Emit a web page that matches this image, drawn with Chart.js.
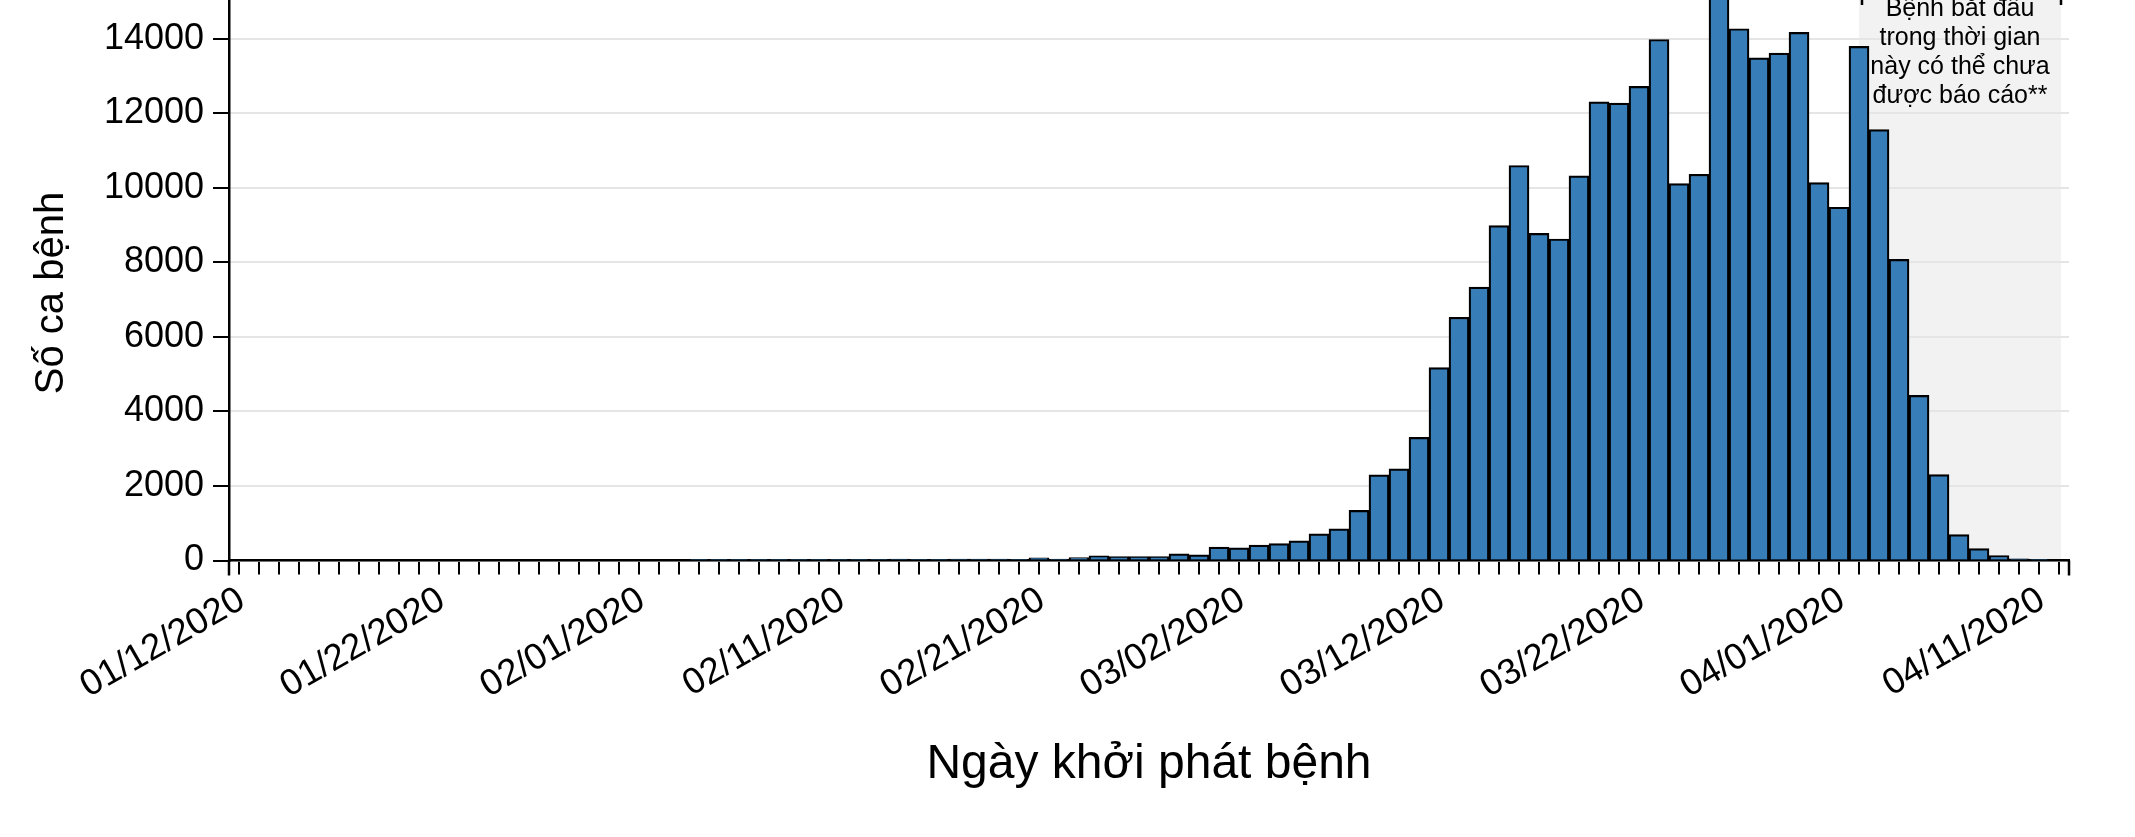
<!DOCTYPE html>
<html><head><meta charset="utf-8">
<script src="https://cdn.jsdelivr.net/npm/chart.js@4.4.1/dist/chart.umd.min.js"></script>
<style>html,body{margin:0;padding:0;background:#fff;}canvas{display:block;}</style>
</head><body>
<canvas id="c" width="2135" height="837"></canvas>
<script>
const dates = [
 '01/12/2020','01/13/2020','01/14/2020','01/15/2020','01/16/2020','01/17/2020','01/18/2020','01/19/2020','01/20/2020','01/21/2020',
 '01/22/2020','01/23/2020','01/24/2020','01/25/2020','01/26/2020','01/27/2020','01/28/2020','01/29/2020','01/30/2020','01/31/2020',
 '02/01/2020','02/02/2020','02/03/2020','02/04/2020','02/05/2020','02/06/2020','02/07/2020','02/08/2020','02/09/2020','02/10/2020',
 '02/11/2020','02/12/2020','02/13/2020','02/14/2020','02/15/2020','02/16/2020','02/17/2020','02/18/2020','02/19/2020','02/20/2020',
 '02/21/2020','02/22/2020','02/23/2020','02/24/2020','02/25/2020','02/26/2020','02/27/2020','02/28/2020','02/29/2020','03/01/2020',
 '03/02/2020','03/03/2020','03/04/2020','03/05/2020','03/06/2020','03/07/2020','03/08/2020','03/09/2020','03/10/2020','03/11/2020',
 '03/12/2020','03/13/2020','03/14/2020','03/15/2020','03/16/2020','03/17/2020','03/18/2020','03/19/2020','03/20/2020','03/21/2020',
 '03/22/2020','03/23/2020','03/24/2020','03/25/2020','03/26/2020','03/27/2020','03/28/2020','03/29/2020','03/30/2020','03/31/2020',
 '04/01/2020','04/02/2020','04/03/2020','04/04/2020','04/05/2020','04/06/2020','04/07/2020','04/08/2020','04/09/2020','04/10/2020',
 '04/11/2020','04/12/2020'
];
const cases = [
 0,0,0,0,0,0,0,0,0,0,
 0,0,0,0,0,0,0,0,0,0,
 0,0,0,8,3,2,4,3,5,8,
 6,9,12,35,30,8,40,40,40,30,
 70,35,80,125,105,107,107,179,152,358,
 340,412,456,528,716,850,1345,2300,2459,3302,
 5176,6525,7338,8984,10600,8776,8627,10322,12305,12275,
 12721,13980,10114,10362,15300,14269,13485,13614,14170,10140,
 9480,13795,11562,8080,4429,2304,696,321,134,45,
 8,0
];
const xTickLabels = ['01/12/2020','01/22/2020','02/01/2020','02/11/2020','02/21/2020','03/02/2020','03/12/2020','03/22/2020','04/01/2020','04/11/2020'];
const yTickLabels = ['0','2000','4000','6000','8000','10000','12000','14000'];
const yTitle = 'Số ca bệnh';
const xTitle = 'Ngày khởi phát bệnh';
const noteLines = ['Bệnh bắt đầu','trong thời gian','này có thể chưa','được báo cáo**'];
const noteStart = '04/02/2020';
const noteEnd = '04/12/2020';

const FAM = "'Liberation Sans', Arial, Helvetica, sans-serif";

const overlay = {
  id: 'overlay',
  beforeDraw(chart) {
    const {ctx, chartArea: a, scales: {x}} = chart;
    const x0 = x.getPixelForValue(dates.indexOf(noteStart));
    const x1 = x.getPixelForValue(dates.indexOf(noteEnd)) + 2;
    ctx.save();
    ctx.fillStyle = '#f2f2f2';
    ctx.fillRect(x0, a.top, x1 - x0, a.bottom - a.top);
    ctx.restore();
  },
  afterDraw(chart) {
    const {ctx, chartArea: a, scales: {x}} = chart;
    const x0 = x.getPixelForValue(dates.indexOf(noteStart));
    const x1 = x.getPixelForValue(dates.indexOf(noteEnd)) + 2;
    ctx.save();
    ctx.strokeStyle = '#000';
    ctx.lineWidth = 2.5;
    ctx.beginPath();
    ctx.moveTo(a.left, a.bottom); ctx.lineTo(a.left, a.bottom + 15);
    ctx.moveTo(a.right, a.bottom); ctx.lineTo(a.right, a.bottom + 15);
    ctx.moveTo(x0 + 3, a.top); ctx.lineTo(x0 + 3, a.top + 5);
    ctx.moveTo(x1, a.top); ctx.lineTo(x1, a.top + 5);
    ctx.stroke();
    ctx.fillStyle = '#000';
    ctx.font = '25px ' + FAM;
    ctx.textAlign = 'center';
    ctx.textBaseline = 'alphabetic';
    const cx = (x0 + x1) / 2;
    noteLines.forEach((t, i) => ctx.fillText(t, cx, 16 + i * 29));
    ctx.translate(63, 293);
    ctx.rotate(-Math.PI / 2);
    ctx.font = '40px ' + FAM;
    ctx.fillText(yTitle, 0, 0);
    ctx.restore();
  }
};

new Chart(document.getElementById('c'), {
  type: 'bar',
  data: {
    labels: dates,
    datasets: [{
      data: cases,
      backgroundColor: '#377eb8',
      borderColor: '#000',
      borderWidth: 2.2,
      barPercentage: 1,
      categoryPercentage: 1
    }]
  },
  options: {
    responsive: false,
    animation: false,
    devicePixelRatio: 1,
    layout: {padding: {left: 0, right: 66, top: 0, bottom: 0}},
    plugins: {legend: {display: false}, tooltip: {enabled: false}},
    scales: {
      x: {
        offset: true,
        grid: {display: true, drawOnChartArea: false, drawTicks: true, tickLength: 14, color: '#000', lineWidth: 2, offset: false},
        border: {display: true, color: '#000', width: 2.5},
        ticks: {
          autoSkip: false, maxRotation: 30, minRotation: 30, padding: 4, labelOffset: 3, color: '#000',
          font: {family: FAM, size: 36.5},
          callback(v, i) { const l = dates[i]; return xTickLabels.includes(l) ? l : ''; }
        },
        title: {display: true, text: xTitle, color: '#000', font: {family: FAM, size: 48}, padding: {top: 0, bottom: 43}},
        afterFit(s) { s.height = 276.5; s.paddingLeft = 0; s.paddingRight = 0; s.paddingTop = 0; s.paddingBottom = 0; }
      },
      y: {
        min: 0, max: 15040,
        grid: {color: '#e5e5e5', lineWidth: 2, tickColor: '#000', tickLength: 16, tickWidth: 2},
        border: {color: '#000', width: 2.5},
        ticks: {
          padding: 9, color: '#000',
          font: {family: FAM, size: 36},
          callback(v) { return String(v); }
        },
        afterBuildTicks(s) { s.ticks = yTickLabels.map(t => ({value: Number(t)})); },
        afterFit(s) { s.width = 229; s.paddingTop = 0; s.paddingBottom = 0; }
      }
    }
  },
  plugins: [overlay]
});
</script>
</body></html>
